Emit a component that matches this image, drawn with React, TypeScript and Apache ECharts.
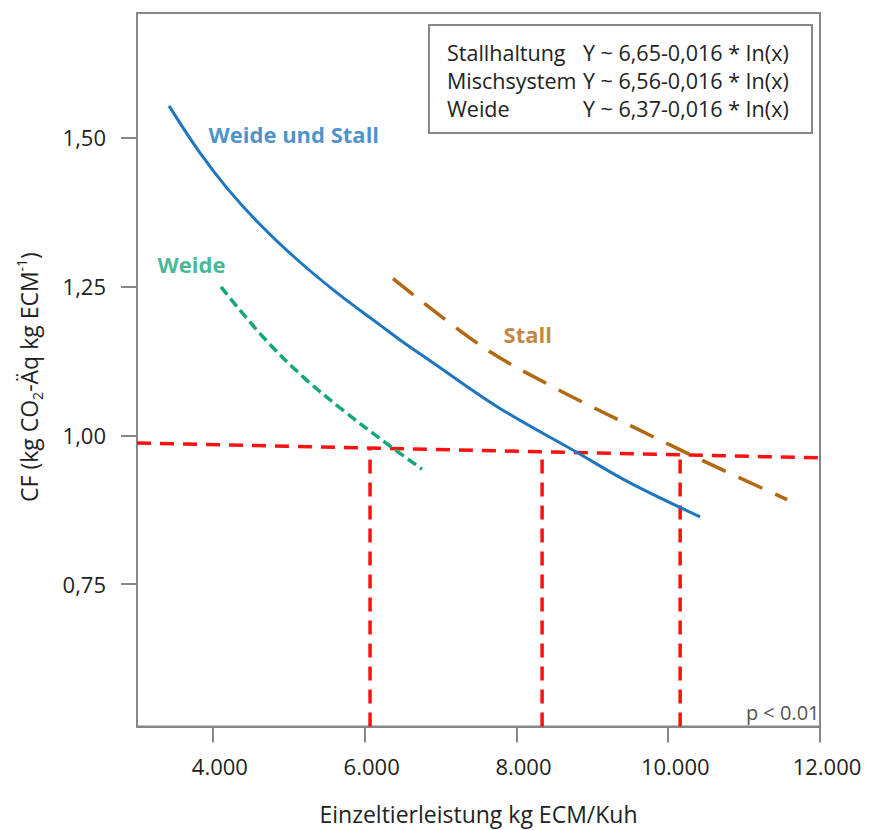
import React, { useEffect, useRef } from "react";
import * as echarts from "echarts";

// Axis ticks
const xTicks = [4000, 6000, 8000, 10000, 12000];
const yTicks = [0.75, 1.0, 1.25, 1.5];

// "Weide und Stall" (Mischsystem) – solid blue
const mixedX = [3422, 3830, 4186, 4582, 5056, 5636, 6203, 6466, 6862, 7745, 8799, 9497, 10420];
const mixedY = [1.553, 1.474, 1.415, 1.359, 1.301, 1.239, 1.185, 1.16, 1.125, 1.048, 0.971, 0.92, 0.863];

// "Weide" – green dotted
const pastureX = [4107, 4661, 5188, 5715, 6334, 6756];
const pastureY = [1.249, 1.165, 1.098, 1.042, 0.982, 0.943];

// "Stall" – brown long dashes
const barnX = [6374, 7560, 8483, 9537, 10512, 11567];
const barnY = [1.263, 1.148, 1.081, 1.014, 0.954, 0.892];

// red reference lines
const thresholdX = [3000, 12000];
const thresholdY = [0.987, 0.962];
const dropX = [6071, 8338, 10157];
const dropTopY = [0.979, 0.972, 0.967];

// legend box (regression equations)
const legendNames = ["Stallhaltung", "Mischsystem", "Weide"];
const legendEquations = [
  "Y ~ 6,65-0,016 * In(x)",
  "Y ~ 6,56-0,016 * In(x)",
  "Y ~ 6,37-0,016 * In(x)",
];

// in-plot annotations (data coordinates)
const annotationTexts = ["Weide und Stall", "Weide", "Stall", "p < 0.01"];
const annotationX = [3936, 3264, 7824, 12000];
const annotationY = [1.506, 1.288, 1.17, 0.534];

const FONT = "'Open Sans', 'Noto Sans', sans-serif";
const TEXT = "#222222";
const AXIS = "#878787";
const BLUE = "#1c77c0";
const GREEN = "#16a67b";
const BROWN = "#b1680f";
const RED = "#ff1010";

const zip = (xs: number[], ys: number[]) => xs.map((x, i) => [x, ys[i]]);

export default function App() {
  const ref = useRef<HTMLDivElement>(null);

  useEffect(() => {
    if (!ref.current) return;
    const chart = echarts.init(ref.current, null, { renderer: "svg" });

    const annColors = [BLUE, GREEN, BROWN, TEXT];
    const annBold = [true, true, true, false];
    const annPos = ["right", "right", "right", "left"];
    const annSize = [22, 22, 22, 20];

    const dropSeries = dropX.map((x, i) => ({
      type: "line",
      data: [
        [x, 0.511],
        [x, dropTopY[i]],
      ],
      symbol: "none",
      lineStyle: { color: RED, width: 3.5, type: [14, 9], cap: "butt" },
      z: 3,
      silent: true,
    }));

    const rowY = [52, 80, 108];

    const option: any = {
      animation: false,
      backgroundColor: "#ffffff",
      grid: {
        left: 137,
        right: 50,
        top: 13,
        bottom: 103,
        show: true,
        borderColor: AXIS,
        borderWidth: 2,
        containLabel: false,
      },
      xAxis: {
        type: "value",
        min: 3000,
        max: 12000,
        name: "Einzeltierleistung kg ECM/Kuh",
        nameLocation: "middle",
        nameGap: 87,
        nameTextStyle: {
          fontFamily: FONT,
          fontSize: 23,
          color: TEXT,
          verticalAlign: "middle",
        },
        axisLine: { show: true, lineStyle: { color: AXIS, width: 2 } },
        axisTick: {
          show: true,
          inside: false,
          length: 16,
          customValues: xTicks,
          lineStyle: { color: AXIS, width: 2 },
        },
        axisLabel: {
          customValues: xTicks,
          margin: 28,
          fontFamily: FONT,
          fontSize: 22,
          color: TEXT,
          padding: [0, 0, 0, 14],
          formatter: (v: number) => Math.floor(v / 1000) + ".000",
        },
        splitLine: { show: false },
      },
      yAxis: {
        type: "value",
        min: 0.511,
        max: 1.709,
        axisLine: { show: true, lineStyle: { color: AXIS, width: 2 } },
        axisTick: {
          show: true,
          inside: false,
          length: 16,
          customValues: yTicks,
          lineStyle: { color: AXIS, width: 2 },
        },
        axisLabel: {
          customValues: yTicks,
          margin: 31,
          fontFamily: FONT,
          fontSize: 22,
          color: TEXT,
          formatter: (v: number) => v.toFixed(2).replace(".", ","),
        },
        splitLine: { show: false },
      },
      series: [
        {
          type: "line",
          name: "Weide und Stall",
          data: zip(mixedX, mixedY),
          smooth: 0.35,
          symbol: "none",
          lineStyle: { color: BLUE, width: 3 },
          z: 4,
        },
        {
          type: "line",
          name: "Weide",
          data: zip(pastureX, pastureY),
          smooth: 0.35,
          symbol: "none",
          lineStyle: { color: GREEN, width: 3.5, type: [10, 5], cap: "butt" },
          z: 4,
        },
        {
          type: "line",
          name: "Stall",
          data: zip(barnX, barnY),
          smooth: 0.35,
          symbol: "none",
          lineStyle: { color: BROWN, width: 3.5, type: [26, 14], cap: "butt" },
          z: 4,
        },
        {
          type: "line",
          name: "Grenze",
          data: zip(thresholdX, thresholdY),
          symbol: "none",
          lineStyle: { color: RED, width: 3.5, type: [14, 9], cap: "butt" },
          z: 3,
        },
        ...dropSeries,
        {
          type: "scatter",
          symbolSize: 1,
          itemStyle: { color: "rgba(0,0,0,0)" },
          silent: true,
          z: 6,
          data: annotationTexts.map((t, i) => ({
            name: t,
            value: [annotationX[i], annotationY[i]],
            label: {
              show: true,
              position: annPos[i],
              distance: 0,
              formatter: t,
              color: annColors[i],
              fontFamily: FONT,
              fontSize: annSize[i],
              fontWeight: annBold[i] ? "bold" : "normal",
            },
          })),
        },
      ],
      graphic: [
        {
          type: "text",
          x: 29,
          y: 377,
          rotation: Math.PI / 2,
          z: 5,
          style: {
            text: "{a|CF (kg CO}{sub|2}{a|-Äq kg ECM}{sup|-1}{a|)}",
            align: "center",
            verticalAlign: "middle",
            rich: {
              a: { fontFamily: FONT, fontSize: 23, fill: TEXT, lineHeight: 30 },
              sub: { fontFamily: FONT, fontSize: 14, fill: TEXT, verticalAlign: "bottom" },
              sup: { fontFamily: FONT, fontSize: 14, fill: TEXT, verticalAlign: "top" },
            },
          },
        },
        {
          type: "rect",
          shape: { x: 429, y: 25, width: 383, height: 108 },
          style: { fill: "#ffffff", stroke: AXIS, lineWidth: 2 },
          z: 10,
        },
        ...legendNames.map((n, i) => ({
          type: "text",
          x: 447,
          y: rowY[i],
          z: 11,
          style: {
            text: n,
            fontFamily: FONT,
            fontSize: 21.5,
            fill: TEXT,
            verticalAlign: "middle",
          },
        })),
        ...legendEquations.map((eq, i) => ({
          type: "text",
          x: 583,
          y: rowY[i],
          z: 11,
          style: {
            text: eq,
            fontFamily: FONT,
            fontSize: 21.5,
            fill: TEXT,
            verticalAlign: "middle",
          },
        })),
      ],
    };

    chart.setOption(option);
    return () => chart.dispose();
  }, []);

  return (
    <div
      ref={ref}
      style={{ position: "fixed", left: 0, top: 0, width: 870, height: 830, background: "#fff" }}
    />
  );
}
